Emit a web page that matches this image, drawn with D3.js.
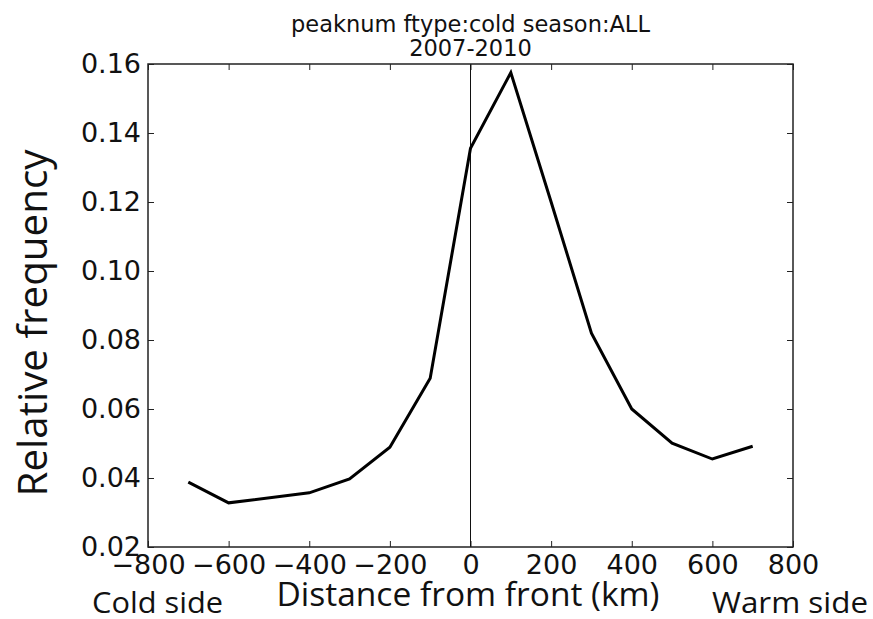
<!DOCTYPE html>
<html>
<head>
<meta charset="utf-8">
<script src="https://cdn.jsdelivr.net/npm/d3@7"></script>
<style>
  body { margin: 0; background: #fff; }
  svg { display: block; }
</style>
</head>
<body>
<div id="chart"></div>
<script>
// distance from front (km) and relative frequency
const distances = [-700, -600, -400, -300, -200, -100, 0, 100, 200, 300, 400, 500, 600, 700];
const frequencies = [0.0388, 0.0328, 0.0357, 0.0397, 0.0489, 0.0689, 0.1356, 0.1575, 0.120, 0.082, 0.0600, 0.0501, 0.0455, 0.0492];
const xTicks = [-800, -600, -400, -200, 0, 200, 400, 600, 800];
const yTicks = [0.02, 0.04, 0.06, 0.08, 0.10, 0.12, 0.14, 0.16];

const width = 873, height = 619;
const margin = {top: 64, right: 80, bottom: 72, left: 148};

const svg = d3.select("#chart").append("svg")
  .attr("width", width)
  .attr("height", height);

const x = d3.scaleLinear().domain([-800, 800]).range([margin.left, width - margin.right]);
const y = d3.scaleLinear().domain([0.02, 0.16]).range([height - margin.bottom, margin.top]);

const tickFont = "27px 'DejaVu Sans', sans-serif";
const minus = v => v < 0 ? "\u2212" + Math.abs(v) : String(v);

// ticks pointing inward on all four sides
const axisStyle = g => {
  g.select(".domain").remove();
  g.selectAll(".tick line").attr("stroke", "#222").attr("stroke-width", 1);
  g.selectAll(".tick text").style("font", tickFont).attr("fill", "#111");
};

svg.append("g")
  .attr("transform", `translate(0,${y.range()[0]})`)
  .call(d3.axisBottom(x).tickValues(xTicks).tickSize(-6).tickPadding(8).tickFormat(minus))
  .call(axisStyle);

svg.append("g")
  .attr("transform", `translate(0,${y.range()[1]})`)
  .call(d3.axisTop(x).tickValues(xTicks).tickSize(-6).tickFormat(""))
  .call(axisStyle);

svg.append("g")
  .attr("transform", `translate(${x.range()[0]},0)`)
  .call(d3.axisLeft(y).tickValues(yTicks).tickSize(-6).tickPadding(7).tickFormat(d3.format(".2f")))
  .call(axisStyle);

svg.append("g")
  .attr("transform", `translate(${x.range()[1]},0)`)
  .call(d3.axisRight(y).tickValues(yTicks).tickSize(-6).tickFormat(""))
  .call(axisStyle);

// vertical line at the front
svg.append("line")
  .attr("x1", x(0)).attr("x2", x(0))
  .attr("y1", y.range()[0]).attr("y2", y.range()[1])
  .attr("stroke", "#111").attr("stroke-width", 1);

// frame
svg.append("rect")
  .attr("x", x.range()[0]).attr("y", y.range()[1])
  .attr("width", x.range()[1] - x.range()[0])
  .attr("height", y.range()[0] - y.range()[1])
  .attr("fill", "none").attr("stroke", "#222").attr("stroke-width", 1.5);

const line = d3.line()
  .x((d, i) => x(distances[i]))
  .y(d => y(d));

svg.append("path")
  .datum(frequencies)
  .attr("d", line)
  .attr("fill", "none")
  .attr("stroke", "#000")
  .attr("stroke-width", 3)
  .attr("stroke-linejoin", "miter");

// titles
const cx = (x.range()[0] + x.range()[1]) / 2;
svg.append("text")
  .attr("x", cx).attr("y", 32)
  .attr("text-anchor", "middle")
  .style("font", "22.5px 'DejaVu Sans', sans-serif")
  .attr("fill", "#111")
  .text("peaknum ftype:cold season:ALL");
svg.append("text")
  .attr("x", cx).attr("y", 56)
  .attr("text-anchor", "middle")
  .style("font", "22.5px 'DejaVu Sans', sans-serif")
  .attr("fill", "#111")
  .text("2007-2010");

// axis labels
svg.append("text")
  .attr("transform", "translate(47,323) rotate(-90)")
  .attr("text-anchor", "middle")
  .style("font", "41px 'Open Sans', sans-serif")
  .attr("fill", "#111")
  .attr("textLength", 347)
  .attr("lengthAdjust", "spacingAndGlyphs")
  .text("Relative frequency");

svg.append("text")
  .attr("x", 468).attr("y", 606)
  .attr("text-anchor", "middle")
  .style("font", "33px 'Open Sans', sans-serif")
  .attr("fill", "#111")
  .attr("textLength", 383)
  .attr("lengthAdjust", "spacingAndGlyphs")
  .text("Distance from front (km)");

svg.append("text")
  .attr("x", 92).attr("y", 613)
  .style("font", "30px 'Open Sans', sans-serif")
  .attr("fill", "#111")
  .attr("textLength", 131)
  .attr("lengthAdjust", "spacingAndGlyphs")
  .text("Cold side");

svg.append("text")
  .attr("x", 712).attr("y", 613)
  .style("font", "30px 'Open Sans', sans-serif")
  .attr("fill", "#111")
  .attr("textLength", 156)
  .attr("lengthAdjust", "spacingAndGlyphs")
  .text("Warm side");
</script>
</body>
</html>
